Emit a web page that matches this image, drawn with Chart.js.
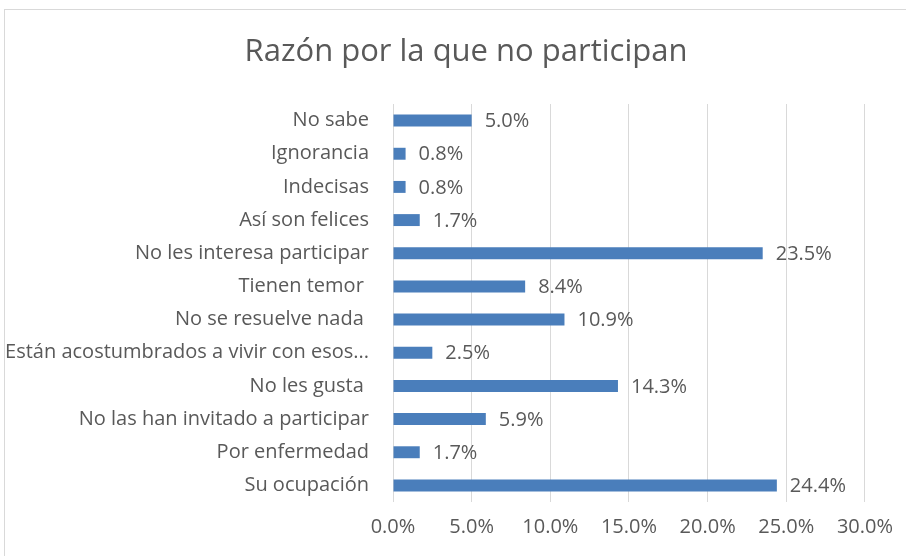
<!DOCTYPE html>
<html><head><meta charset="utf-8">
<script src="https://cdn.jsdelivr.net/npm/chart.js@4/dist/chart.umd.min.js"></script>
<style>html,body{margin:0;padding:0;background:#fff;}#wrap{width:906px;height:556px;position:relative;}</style>
</head><body><div id="wrap"><canvas id="c" width="906" height="556"></canvas></div>
<script>
const title = 'Razón por la que no participan';
const categories = ['No sabe','Ignorancia','Indecisas','Así son felices','No les interesa participar','Tienen temor ','No se resuelve nada ','Están acostumbrados a vivir con esos...','No les gusta ','No las han invitado a participar','Por enfermedad','Su ocupación'];
const values = [5.0,0.8,0.8,1.7,23.5,8.4,10.9,2.5,14.3,5.9,1.7,24.4];
const tickValues = [0,5,10,15,20,25,30];

const FONT = '"Open Sans", "Liberation Sans", sans-serif';
const TXT = '#595959';

const deco = {
  id:'deco',
  beforeDraw(chart){
    const ctx = chart.ctx;
    ctx.save();
    ctx.fillStyle='#fff';ctx.fillRect(0,0,chart.width,chart.height);
    ctx.strokeStyle='#d9d9d9';ctx.lineWidth=1;
    ctx.strokeRect(4.5,9.5,960,600);
    ctx.fillStyle=TXT;ctx.font='31px '+FONT;ctx.textAlign='center';ctx.textBaseline='middle';
    ctx.fillText(title,466,52);
    ctx.restore();
  },
  afterDatasetsDraw(chart){
    const ctx = chart.ctx; const meta = chart.getDatasetMeta(0);
    ctx.save();ctx.fillStyle=TXT;ctx.font='20px '+FONT;ctx.textAlign='left';ctx.textBaseline='middle';
    meta.data.forEach((b,i)=>{ ctx.fillText(values[i].toFixed(1)+'%', b.x+13, b.y+1); });
    ctx.restore();
  }
};

new Chart(document.getElementById('c'),{
  type:'bar',
  data:{labels:categories,datasets:[{data:values,backgroundColor:'#4a7ebb',borderWidth:0,barPercentage:0.72,categoryPercentage:0.5}]},
  options:{
    indexAxis:'y',responsive:false,animation:false,
    layout:{padding:{left:0,right:40,top:104,bottom:0}},
    plugins:{legend:{display:false},tooltip:{enabled:false}},
    scales:{
      x:{min:0,max:30,afterBuildTicks(s){s.ticks=tickValues.map(v=>({value:v}));},
        grid:{color:'#d9d9d9',drawTicks:false,lineWidth:1},border:{display:false},
        ticks:{color:TXT,font:{family:FONT,size:20},padding:13,callback:v=>Number(v).toFixed(1)+'%',maxRotation:0},
        afterFit(s){s.height=54;}},
      y:{grid:{display:false},border:{display:false},
        ticks:{color:TXT,font:{family:FONT,size:20},padding:16,autoSkip:false},
        afterFit(s){s.width=393;}}
    }
  },
  plugins:[deco]
});
</script></body></html>
